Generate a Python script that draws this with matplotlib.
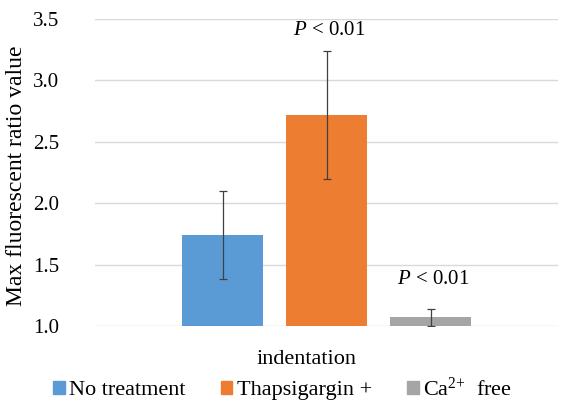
import numpy as np
import matplotlib
matplotlib.use("Agg")
import matplotlib.pyplot as plt
import matplotlib.transforms as mtransforms
from matplotlib.patches import Patch

# ---------------------------------------------------------------------------
# Données
# ---------------------------------------------------------------------------
category = "indentation"
groups = ["No treatment", "Thapsigargin +", "Ca$^{2{+}}$  free"]
means = [1.74, 2.72, 1.07]
errors = [0.36, 0.52, 0.07]
p_labels = ["", "$P$ < 0.01", "$P$ < 0.01"]

colors = ["#5B9BD5", "#ED7D31", "#A5A5A5"]
label_gap = [0, 8, 14]   # décalage vertical des étiquettes P (points)

plt.rcParams["font.family"] = ["Liberation Serif", "DejaVu Serif"]
plt.rcParams["mathtext.fontset"] = "custom"
plt.rcParams["mathtext.rm"] = "Liberation Serif"
plt.rcParams["mathtext.it"] = "Liberation Serif:italic"

fig = plt.figure(figsize=(5.62, 4.05), dpi=100)
ax = fig.add_axes([0.169, 0.195, 0.824, 0.758])

bar_w = 0.175
step = 0.2246
offsets = (np.arange(len(groups)) - 1) * step

for i, (m, e) in enumerate(zip(means, errors)):
    ax.bar(offsets[i], m - 1.0, bottom=1.0, width=bar_w, color=colors[i], zorder=2)
    ax.errorbar(offsets[i], m, yerr=e, fmt="none", ecolor="#404040",
                elinewidth=0.9, capsize=3.2, capthick=0.9, zorder=3, clip_on=True)
    if p_labels[i]:
        ax.annotate(p_labels[i], xy=(offsets[i], m + e), xytext=(2, label_gap[i]),
                    textcoords="offset points", ha="center", va="bottom",
                    fontsize=15)

ax.set_xlim(-0.5, 0.5)
ax.set_ylim(1.0, 3.5)
ax.set_yticks(np.arange(1.0, 3.51, 0.5))
ax.set_yticklabels([f"{v:.1f}" for v in np.arange(1.0, 3.51, 0.5)])
ax.set_xticks([0])
ax.set_xticklabels([category])

ax.grid(axis="y", color="#D9D9D9", linewidth=1.0, zorder=0)
ax.set_axisbelow(True)
for s in ax.spines.values():
    s.set_visible(False)
ax.tick_params(axis="y", length=0, pad=26, labelsize=15)
ax.tick_params(axis="x", length=0, pad=17, labelsize=16)

# Excel centre l'étiquette de catégorie sur la zone de traçage complète
shift = mtransforms.ScaledTranslation(-0.2, 0, fig.dpi_scale_trans)
for lbl in ax.get_xticklabels():
    lbl.set_transform(lbl.get_transform() + shift)

ax.set_ylabel("Max fluorescent ratio value", fontsize=17)
ax.yaxis.set_label_coords(-0.147, 0.49)

handles = [Patch(color=c) for c in colors]
fig.legend(handles, groups, loc="center", bbox_to_anchor=(0.503, 0.04), ncol=3,
           frameon=False, fontsize=16, handlelength=0.5, handleheight=0.5,
           handletextpad=0.2, columnspacing=1.6)

fig.savefig("out.png", dpi=100)
